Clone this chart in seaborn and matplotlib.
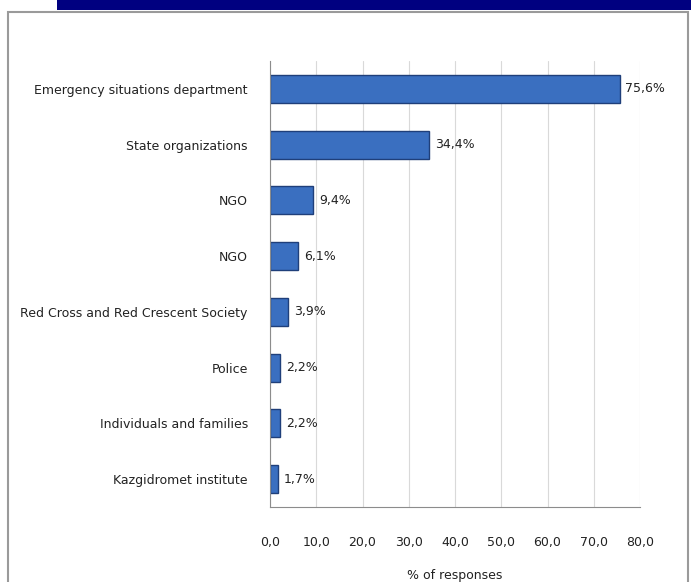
import pandas as pd
import seaborn as sns
import matplotlib.pyplot as plt
from matplotlib.patches import Rectangle

# Data
categories = ['Emergency situations department', 'State organizations', 'NGO', 'NGO',
              'Red Cross and Red Crescent Society', 'Police', 'Individuals and families',
              'Kazgidromet institute']
values = [75.6, 34.4, 9.4, 6.1, 3.9, 2.2, 2.2, 1.7]
xticks = [0, 10, 20, 30, 40, 50, 60, 70, 80]

# two rows are both called "NGO", so plot on a row key and relabel afterwards
df = pd.DataFrame({'row': [str(i) for i in range(len(categories))], 'value': values})

sns.set_style('white')
plt.rcParams['font.family'] = ['DejaVu Sans']

fig = plt.figure(figsize=(6.91, 5.82), dpi=100)

# outer frame and navy band on top
fig.patches.append(Rectangle((8 / 691, -0.01), 680 / 691, 1 - 12 / 582 + 0.01,
                             transform=fig.transFigure, fill=False,
                             edgecolor='#9a9a9a', linewidth=1.5))
fig.patches.append(Rectangle((57 / 691, 1 - 10 / 582), 1, 10 / 582,
                             transform=fig.transFigure, facecolor='#000080',
                             edgecolor='none'))

ax = fig.add_axes([270 / 691, 1 - 507 / 582, 370 / 691, (507 - 61) / 582])
sns.barplot(data=df, x='value', y='row', orient='h', color='#3a6fc0',
            edgecolor='#1f3f7a', linewidth=1, width=0.5, saturation=1, ax=ax)

ax.set_xlim(0, 80)
ax.set_xticks(xticks)
ax.set_xticklabels([f'{t:.1f}'.replace('.', ',') for t in xticks], fontsize=9, color='#222222')
ax.set_yticks(range(len(categories)))
ax.set_yticklabels(categories)
ax.tick_params(axis='y', labelsize=9, length=0, pad=16, labelcolor='#222222')
ax.tick_params(axis='x', length=3, pad=18)
ax.xaxis.grid(True, color='#d9d9d9', linewidth=0.8)
ax.set_axisbelow(True)
ax.set_ylabel('')
ax.set_xlabel('% of responses', fontsize=9, labelpad=14, color='#222222')
for s in ['top', 'right']:
    ax.spines[s].set_visible(False)
ax.spines['left'].set_color('#8c8c8c')
ax.spines['bottom'].set_color('#8c8c8c')

for i, v in enumerate(values):
    ax.text(v + 1.2, i, f'{v:.1f}%'.replace('.', ','), va='center', ha='left',
            fontsize=9, color='#222222')

fig.savefig('out.png', dpi=100)
